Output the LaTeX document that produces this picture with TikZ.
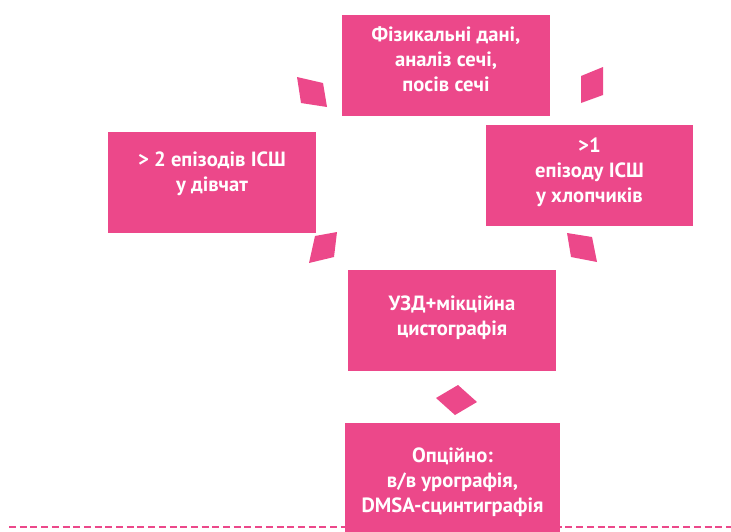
\documentclass[tikz,border=0pt]{standalone}
\usepackage{fontspec}
\setmainfont{PT Sans}
\definecolor{rozha}{RGB}{236,72,138}

\begin{document}
\begin{tikzpicture}[
  x=0.5pt, y=-0.5pt,
  box/.style={rectangle, fill=rozha, minimum width=104pt, minimum height=50.5pt,
              inner sep=0pt, align=center, text=white,
              font=\bfseries\fontsize{10.3}{12.5}\selectfont},
  tip/.style={fill=rozha},
  sep/.style={draw=rozha, line width=1pt, dash pattern=on 3.5pt off 1.85pt},
]
  \useasboundingbox (0,0) rectangle (731,531);

  % separator under the last step
  \coordinate (sepL) at (9,527);
  \coordinate (sepR) at (731,527);
  \draw[sep] (sepL) -- (sepR);

  % steps
  \node[box, text depth=6pt] (phys) at (446,65.5) {Фізикальні дані,\\аналіз сечі,\\посів сечі};
  \node[box, text depth=10pt] (girls) at (212,182) {> 2 епізодів ІСШ\\у дівчат};
  \node[box, text depth=5pt, minimum width=103.5pt] (boys) at (589.5,175.5) {>1\\епізоду ІСШ\\у хлопчиків};
  \node[box, text depth=5pt] (usd) at (452,320.5) {УЗД+мікційна\\цистографія};
  \node[box, minimum width=107.5pt, minimum height=59pt] (opt) at (452.5,482)
    {Опційно:\\в/в урографія,\\DMSA-сцинтиграфія};

  % small arrow marks between the steps
  \fill[tip] (297,77) -- (323,83) -- (327,107) -- (301,103) -- cycle;
  \fill[tip] (581,76) -- (603,67) -- (603,95) -- (581,103) -- cycle;
  \fill[tip] (315,236) -- (337,232) -- (334,257) -- (309,263) -- cycle;
  \fill[tip] (567,233) -- (592,237) -- (597,262) -- (571,257) -- cycle;
  \fill[tip] (436,398) -- (458,385) -- (477,402) -- (455,415) -- cycle;
\end{tikzpicture}
\end{document}
